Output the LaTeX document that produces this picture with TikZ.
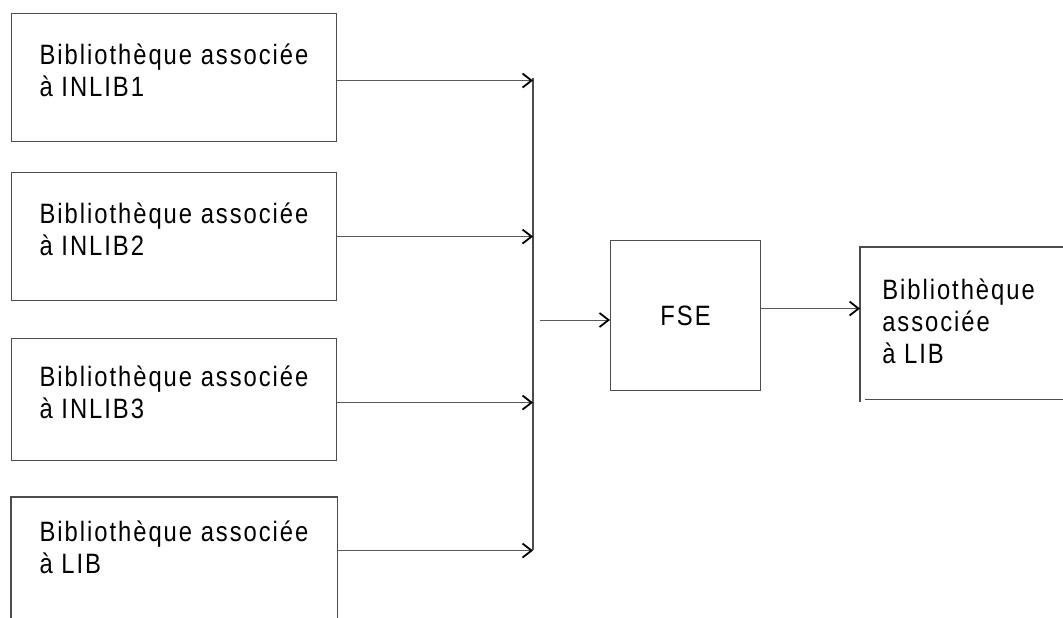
\documentclass[tikz,border=0pt]{standalone}
\usepackage{fontspec}
\setmainfont{Liberation Sans}[LetterSpace=7, FakeStretch=0.85]
\usetikzlibrary{arrows.meta}

\tikzset{
  edge/.style={draw=black!70, line width=1.1pt},
  libbox/.style={edge, anchor=north west, inner sep=0pt, align=left,
    minimum width=325pt, minimum height=128pt, text depth=14pt,
    font=\fontsize{28}{32}\selectfont},
  conn/.style={draw=black!65, line width=1pt,
    -{Straight Barb[length=9pt,width=14pt,line width=1.8pt,color=black]}},
}

\begin{document}
\begin{tikzpicture}[x=1pt, y=-1pt]
  \useasboundingbox (0,0) rectangle (1063,618);
  \def\Xl{11};
  \def\Xbus{533};

  % input libraries
  \node[libbox] (inlib1) at (\Xl, 13) {Bibliothèque associée\\à INLIB1};
  \node[libbox] (inlib2) at (\Xl, 172) {Bibliothèque associée\\à INLIB2};
  \node[libbox, minimum height=122pt] (inlib3) at (\Xl, 338) {Bibliothèque associée\\à INLIB3};
  \node[libbox, draw=none, minimum height=114pt] (lib) at (\Xl, 497) {Bibliothèque associée\\à LIB};
  % last box runs off the page
  \draw[edge] ([yshift=-20pt]lib.south west) -- (lib.north west)
    -- (lib.north east) -- ([yshift=-20pt]lib.south east);

  % bus
  \coordinate (bustop) at (\Xbus, 78);
  \coordinate (busbot) at (\Xbus, 550);
  \coordinate (busout) at (540, 320);
  \draw[edge] (bustop) -- (busbot);

  \draw[conn] ([yshift=-3pt]inlib1.east) -- ([yshift=-3pt]inlib1.east -| bustop);
  \draw[conn] (inlib2.east) -- (inlib2.east -| bustop);
  \draw[conn] ([yshift=-3pt]inlib3.east) -- ([yshift=-3pt]inlib3.east -| bustop);
  \draw[conn] ([yshift=4pt]lib.east) -- ([yshift=4pt]lib.east -| bustop);

  % FSE
  \node[libbox, minimum width=150pt, minimum height=150pt, text depth=0pt,
    align=center] (fse) at (610, 240) {FSE};
  \draw[conn] (busout) -- (busout -| fse.west);

  % output library, open on the right
  \node[libbox, draw=none, minimum width=196pt, minimum height=151pt,
    text depth=4pt] (outlib) at (860, 247) {Bibliothèque\\associée\\à LIB};
  \draw[edge] ([xshift=30pt]outlib.north east) -- (outlib.north west)
    -- ([yshift=-3pt]outlib.south west);
  \draw[edge] ([xshift=5pt]outlib.south west) -- ([xshift=30pt]outlib.south east);
  \draw[conn] ([yshift=7pt]fse.east) -- ([yshift=7pt]fse.east -| outlib.west);
\end{tikzpicture}
\end{document}
